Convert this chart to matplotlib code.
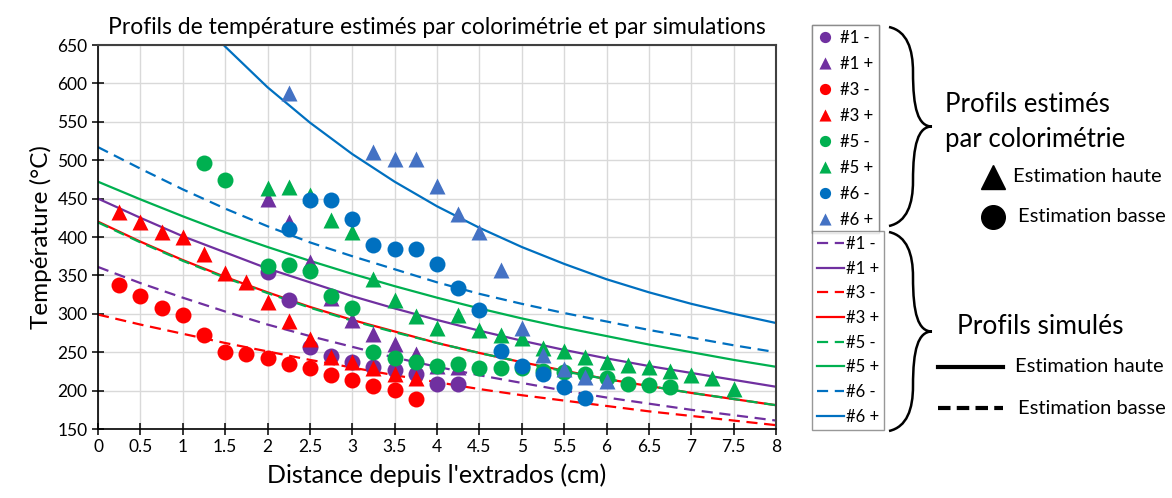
import matplotlib
matplotlib.use('Agg')
import matplotlib.pyplot as plt
from matplotlib.lines import Line2D
from matplotlib.path import Path
from matplotlib.patches import PathPatch

plt.rcParams['font.family'] = ['Lato', 'DejaVu Sans']

# points estimés par colorimétrie
x_1m = [2.0, 2.25, 2.5, 2.75, 3.0, 3.25, 3.5, 3.75, 4.0, 4.25]
t_1m = [355, 318, 257, 245, 237, 231, 227, 222, 209, 209]
x_1p = [2.0, 2.25, 2.5, 2.75, 3.0, 3.25, 3.5, 3.75, 4.0, 4.25]
t_1p = [450, 420, 368, 320, 292, 274, 261, 248, 232, 231]
x_3m = [0.25, 0.5, 0.75, 1.0, 1.25, 1.5, 1.75, 2.0, 2.25, 2.5, 2.75, 3.0, 3.25, 3.5, 3.75]
t_3m = [337, 323, 307, 299, 273, 250, 248, 242, 235, 229, 220, 214, 206, 201, 189]
x_3p = [0.25, 0.5, 0.75, 1.0, 1.25, 1.5, 1.75, 2.0, 2.25, 2.5, 2.75, 3.0, 3.25, 3.5, 3.75]
t_3p = [433, 420, 407, 400, 378, 353, 341, 316, 291, 267, 244, 237, 229, 222, 216]
x_5m = [1.25, 1.5, 2.0, 2.25, 2.5, 2.75, 3.0, 3.25, 3.5, 3.75, 4.0, 4.25, 4.5, 4.75,
        5.0, 5.25, 5.5, 5.75, 6.0, 6.25, 6.5, 6.75]
t_5m = [497, 474, 362, 363, 356, 323, 307, 250, 242, 237, 232, 234, 230, 230,
        229, 226, 224, 221, 216, 209, 207, 205]
x_5p = [2.0, 2.25, 2.5, 2.75, 3.0, 3.25, 3.5, 3.75, 4.0, 4.25, 4.5, 4.75, 5.0, 5.25,
        5.5, 5.75, 6.0, 6.25, 6.5, 6.75, 7.0, 7.25, 7.5]
t_5p = [464, 465, 455, 422, 407, 345, 318, 297, 282, 299, 279, 272, 269, 256,
        252, 244, 237, 233, 231, 226, 220, 216, 202]
x_6m = [2.25, 2.5, 2.75, 3.0, 3.25, 3.5, 3.75, 4.0, 4.25, 4.5, 4.75, 5.0, 5.25, 5.5, 5.75]
t_6m = [411, 448, 448, 423, 389, 385, 385, 365, 333, 305, 252, 232, 221, 205, 191]
x_6p = [2.25, 3.25, 3.5, 3.75, 4.0, 4.25, 4.5, 4.75, 5.0, 5.25, 5.5, 5.75, 6.0]
t_6p = [587, 511, 502, 502, 467, 430, 407, 357, 281, 246, 228, 218, 212]

# profils simulés
sim_x = [0, 0.5, 1, 1.5, 2, 2.5, 3, 3.5, 4, 4.5, 5, 5.5, 6, 6.5, 7, 7.5, 8]
sim_1m = [361, 340, 321, 303, 286, 271, 257, 243, 231, 220, 210, 200, 191, 183, 175, 168, 161]
sim_1p = [450, 425, 401, 380, 359, 341, 323, 307, 292, 278, 265, 253, 242, 232, 223, 214, 205]
sim_3m = [299, 286, 274, 262, 251, 240, 230, 220, 211, 202, 194, 187, 180, 173, 167, 161, 155]
sim_3p = [420, 394, 370, 348, 328, 309, 292, 277, 262, 249, 237, 226, 215, 206, 197, 189, 181]
sim_5m = [419, 393, 369, 347, 327, 308, 291, 276, 262, 249, 237, 225, 215, 206, 197, 189, 181]
sim_5p = [472, 449, 427, 406, 387, 369, 352, 336, 321, 307, 294, 282, 271, 260, 250, 240, 231]
sim_6m = [517, 489, 462, 437, 414, 393, 375, 358, 341, 326, 313, 301, 290, 279, 269, 259, 250]
sim_6p_x = [1.25, 1.5, 2, 2.5, 3, 3.5, 4, 4.5, 5, 5.5, 6, 6.5, 7, 7.5, 8]
sim_6p = [677, 648, 595, 549, 508, 472, 440, 412, 387, 365, 345, 328, 313, 300, 288]

purple = '#7030A0'
red = '#FF0000'
green = '#00B050'
blue = '#0070C0'
blue2 = '#4472C4'

W, H = 1172, 498
def fx(x):
    return x / W
def fy(y):
    return 1 - y / H

fig = plt.figure(figsize=(11.72, 4.98), dpi=100)
ax = fig.add_axes([fx(98), fy(429), fx(776) - fx(98), fy(45) - fy(429)])

# courbes simulées
dash = (5, 3)
lw = 1.6
ax.plot(sim_x, sim_1m, color=purple, lw=lw, dashes=dash, label='#1 -', zorder=2)
ax.plot(sim_x, sim_1p, color=purple, lw=lw, label='#1 +', zorder=2)
ax.plot(sim_x, sim_3m, color=red, lw=lw, dashes=dash, label='#3 -', zorder=2)
ax.plot(sim_x, sim_3p, color=red, lw=lw, label='#3 +', zorder=2)
ax.plot(sim_x, sim_5m, color=green, lw=lw, dashes=dash, label='#5 -', zorder=2)
ax.plot(sim_x, sim_5p, color=green, lw=lw, label='#5 +', zorder=2)
ax.plot(sim_x, sim_6m, color=blue, lw=lw, dashes=dash, label='#6 -', zorder=2)
ax.plot(sim_6p_x, sim_6p, color=blue, lw=lw, label='#6 +', zorder=2)
line_handles = ax.get_lines()[:]

# points colorimétrie
ms_c = 11.5
ms_t = 11.5
pts = []
pts += ax.plot(x_1m, t_1m, 'o', color=purple, ms=ms_c, mec='none', label='#1 -', zorder=3)
pts += ax.plot(x_1p, t_1p, '^', color=purple, ms=ms_t, mec='none', label='#1 +', zorder=3)
pts += ax.plot(x_3m, t_3m, 'o', color=red, ms=ms_c, mec='none', label='#3 -', zorder=3)
pts += ax.plot(x_3p, t_3p, '^', color=red, ms=ms_t, mec='none', label='#3 +', zorder=3)
pts += ax.plot(x_5m, t_5m, 'o', color=green, ms=ms_c, mec='none', label='#5 -', zorder=3)
pts += ax.plot(x_5p, t_5p, '^', color=green, ms=ms_t, mec='none', label='#5 +', zorder=3)
pts += ax.plot(x_6m, t_6m, 'o', color=blue, ms=ms_c, mec='none', label='#6 -', zorder=3)
pts += ax.plot(x_6p, t_6p, '^', color=blue2, ms=ms_t, mec='none', label='#6 +', zorder=3)

ax.set_xlim(0, 8)
ax.set_ylim(150, 650)
xt = [i * 0.5 for i in range(17)]
ax.set_xticks(xt)
ax.set_xticklabels([('%g' % v) for v in xt])
ax.set_yticks(range(150, 651, 50))
ax.grid(True, color='#d9d9d9', lw=1)
ax.set_axisbelow(True)
ax.tick_params(direction='inout', length=8, width=1.1, labelsize=12.5, colors='black')
for s in ['left', 'bottom']:
    ax.spines[s].set_color('black')
    ax.spines[s].set_linewidth(1.2)
for s in ['top', 'right']:
    ax.spines[s].set_color('#404040')
    ax.spines[s].set_linewidth(1.5)

ax.set_title('Profils de température estimés par colorimétrie et par simulations',
             fontsize=16.5, pad=8)
ax.set_xlabel("Distance depuis l'extrados (cm)", fontsize=18, labelpad=6)
ax.set_ylabel('Température (°C)', fontsize=17.5, labelpad=4)

# légendes
leg1 = fig.legend(handles=pts, loc='upper left', bbox_to_anchor=(fx(812), fy(25)),
                  fontsize=12, labelspacing=0.6, handlelength=1.0, handletextpad=0.4,
                  borderpad=0.3, borderaxespad=0, markerscale=0.7, fancybox=False)
leg1.get_frame().set_edgecolor('#7f7f7f')
leg1.get_frame().set_linewidth(1)
fig.add_artist(leg1)
leg2 = fig.legend(handles=line_handles, loc='upper left', bbox_to_anchor=(fx(812), fy(231)),
                  fontsize=12, labelspacing=0.52, handlelength=1.6, handletextpad=0.15,
                  borderpad=0.3, borderaxespad=0, fancybox=False)
leg2.get_frame().set_edgecolor('#7f7f7f')
leg2.get_frame().set_linewidth(1)


# accolades
def brace(x0, xm, xt_, ytop, ybot):
    ymid = (ytop + ybot) / 2
    pts_ = [(x0, ytop), (xm - 6, ytop + 4), (xm, ytop + 22), (xm, ytop + 45),
            (xm, ymid - 18), (xt_ - 14, ymid), (xt_, ymid),
            (xt_ - 14, ymid), (xm, ymid + 18), (xm, ybot - 45),
            (xm, ybot - 22), (xm - 6, ybot - 4), (x0, ybot)]
    verts = [(fx(a), fy(b)) for a, b in pts_]
    codes = [Path.MOVETO] + [Path.CURVE4] * 12
    fig.add_artist(PathPatch(Path(verts, codes), fc='none', ec='black', lw=1.8,
                             transform=fig.transFigure))

brace(889, 913, 932, 27, 226)
brace(889, 913, 932, 232, 431)

fig.text(fx(945), fy(105), 'Profils estimés', fontsize=18.5, va='center', ha='left')
fig.text(fx(945), fy(140), 'par colorimétrie', fontsize=18.5, va='center', ha='left')
fig.add_artist(Line2D([fx(993)], [fy(177)], marker='^', ms=17, color='black',
                      transform=fig.transFigure))
fig.text(fx(1013), fy(177), 'Estimation haute', fontsize=14.5, va='center', ha='left')
fig.add_artist(Line2D([fx(993)], [fy(217)], marker='o', ms=17, color='black',
                      transform=fig.transFigure))
fig.text(fx(1018), fy(217), 'Estimation basse', fontsize=14.5, va='center', ha='left')

fig.text(fx(957), fy(327), 'Profils simulés', fontsize=19, va='center', ha='left')
fig.add_artist(Line2D([fx(938), fx(1003)], [fy(367), fy(367)], lw=3, color='black',
                      transform=fig.transFigure))
fig.text(fx(1015), fy(367), 'Estimation haute', fontsize=14.5, va='center', ha='left')
fig.add_artist(Line2D([fx(938), fx(1003)], [fy(408), fy(408)], lw=3, color='black',
                      dashes=(3, 1.5), transform=fig.transFigure))
fig.text(fx(1018), fy(408), 'Estimation basse', fontsize=14.5, va='center', ha='left')

fig.savefig('out.png', dpi=100)
